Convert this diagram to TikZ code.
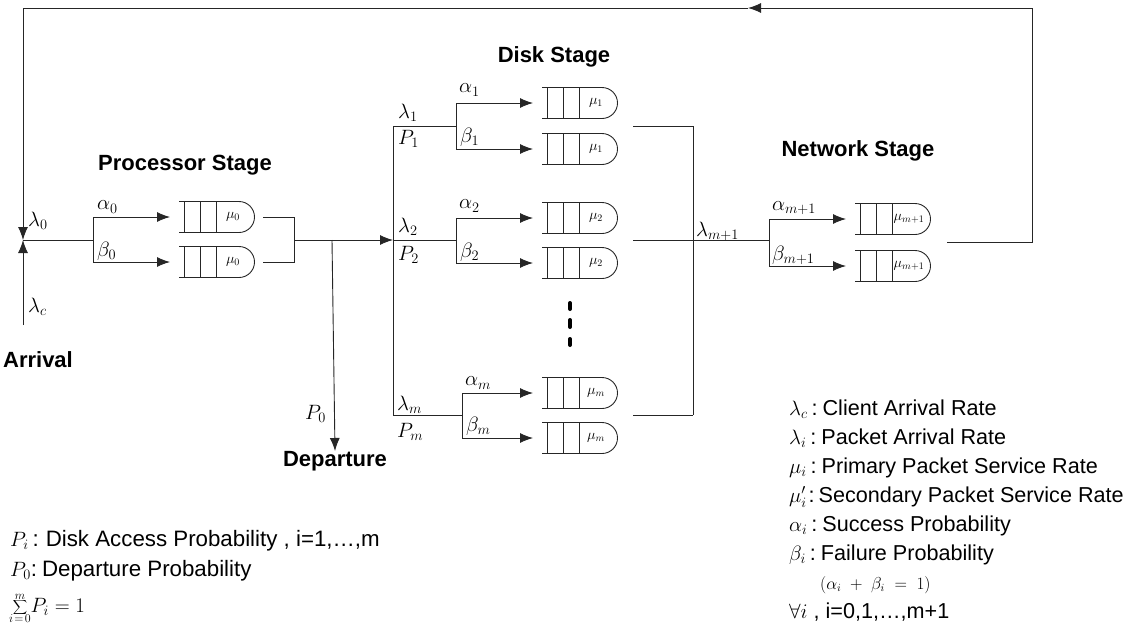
\documentclass[tikz,border=0pt]{standalone}
\usepackage{fontspec}
\setmainfont{Liberation Sans}
\usetikzlibrary{arrows.meta}
\tikzset{
  ln/.style={line width=0.9pt, draw=black!85},
  arr/.style={ln, -{Latex[length=13pt,width=10pt]}},
  lbl/.style={font=\fontsize{20}{24}\selectfont, inner sep=0pt},
  qlbl/.style={font=\fontsize{14}{16}\selectfont, inner sep=0pt},
  stage/.style={font=\fontsize{22}{26}\selectfont\bfseries, inner sep=0pt},
  legend/.style={font=\fontsize{22.3}{26}\selectfont, inner sep=0pt, anchor=base west},
  rlegend/.style={legend, font=\fontsize{21.6}{26}\selectfont},
  lim/.style={font=\fontsize{12}{13}\selectfont, inner sep=0pt},
  pics/queue/.style={code={
    \draw[ln] (0,-15.5) -- (60,-15.5) arc[start angle=90,end angle=-90,radius=15.5pt] -- (0,15.5);
    \draw[ln] (5,-15.5) -- (5,15.5) (21,-15.5) -- (21,15.5) (37,-15.5) -- (37,15.5);
    \node[qlbl] at (54,0) {#1};
    \coordinate (-in) at (-9,0);
    \coordinate (-out) at (84,0);
  }}
}
\begin{document}
\begin{tikzpicture}[x=1pt,y=-1pt]
\useasboundingbox (0,0) rectangle (1138,643);

% ---------- coordinates ----------
\coordinate (TL) at (23,8);
\coordinate (TR) at (1032,8);
\coordinate (TA) at (748,8);
\coordinate (RB) at (1032,242);
\coordinate (J0) at (23,240);
\coordinate (SRC) at (23,325);
\coordinate (B0) at (93,240);
\coordinate (B0a) at (93,217);
\coordinate (B0b) at (93,262);
\coordinate (C0) at (294,240);
\coordinate (C0a) at (294,217);
\coordinate (C0b) at (294,262);
\coordinate (D0) at (332,240);
\coordinate (DV1) at (393,126);
\coordinate (DV2) at (393,240);
\coordinate (DVm) at (393,415);
\coordinate (B1) at (456,126);
\coordinate (B1a) at (456,103);
\coordinate (B1b) at (456,149);
\coordinate (B2) at (456,240);
\coordinate (B2a) at (456,218);
\coordinate (B2b) at (456,263);
\coordinate (Bm) at (462,415);
\coordinate (Bma) at (462,393);
\coordinate (Bmb) at (462,438);
\coordinate (O1) at (633,126);
\coordinate (O2) at (633,240);
\coordinate (Om) at (633,415);
\coordinate (CV1) at (693,126);
\coordinate (CV2) at (693,240);
\coordinate (CVm) at (693,415);
\coordinate (BN) at (769,240);
\coordinate (BNa) at (769,219);
\coordinate (BNb) at (769,266);
\coordinate (ON) at (947,242);

% ---------- queues ----------
\pic (q0a) at (179,217) {queue={$\mu_0$}};
\pic (q0b) at (179,262) {queue={$\mu_0$}};
\pic (q1a) at (542,103) {queue={$\mu_1$}};
\pic (q1b) at (542,149) {queue={$\mu_1$}};
\pic (q2a) at (542,218) {queue={$\mu_2$}};
\pic (q2b) at (542,263) {queue={$\mu_2$}};
\pic (qma) at (542,393) {queue={$\mu_m$}};
\pic (qmb) at (542,438) {queue={$\mu_m$}};
\pic (qna) at (855,219) {queue={$\mu_{m+1}$}};
\pic (qnb) at (855,266) {queue={$\mu_{m+1}$}};

% ---------- text nodes ----------
\node[stage] (ps) at (185,165) {Processor Stage};
\node[stage] (ds) at (554,57) {Disk Stage};
\node[stage] (ns) at (858,151) {Network Stage};
\node[stage] (arrival) at (38,360) {Arrival};
\node[stage, anchor=north] (departure) at (335,451) {Departure};

% ---------- feedback loop ----------
\draw[ln] (TA) -- (TL);
\draw[arr] (TL) -- (J0);
\draw[arr] (ON) -- (RB) -- (TR) -- (TA);
\draw[arr] (SRC) -- (J0);

% ---------- processor stage ----------
\draw[ln] (J0) -- (B0);
\draw[ln] (B0a) -- (B0b);
\draw[arr] (B0a) -- (q0a-in);
\draw[arr] (B0b) -- (q0b-in);
\draw[ln] (263,217) -- (C0a) -- (C0b) -- (263,262);
\draw[arr] (C0) -- (DV2);
\draw[arr] (D0) -- (departure.north);

% ---------- disk stage ----------
\draw[ln] (DV1) -- (DVm);
\draw[ln] (DV1) -- (B1) (DV2) -- (B2) (DVm) -- (Bm);
\draw[ln] (B1a) -- (B1b) (B2a) -- (B2b) (Bma) -- (Bmb);
\draw[arr] (B1a) -- (q1a-in);
\draw[arr] (B1b) -- (q1b-in);
\draw[arr] (B2a) -- (q2a-in);
\draw[arr] (B2b) -- (q2b-in);
\draw[arr] (Bma) -- (qma-in);
\draw[arr] (Bmb) -- (qmb-in);
\draw[ln] (O1) -- (CV1) (O2) -- (CV2) (Om) -- (CVm);
\draw[ln] (CV1) -- (CVm);
\draw[line width=4pt, line cap=round] (570,303) -- (570,309) (570,320) -- (570,327) (570,339) -- (570,345);

% ---------- network stage ----------
\draw[ln] (CV2) -- (BN);
\draw[ln] (BNa) -- (BNb);
\draw[arr] (BNa) -- (qna-in);
\draw[arr] (BNb) -- (qnb-in);

% ---------- flow labels ----------
\node[lbl, anchor=west] (l0) at (28,221) {$\lambda_0$};
\node[lbl, anchor=west] (lc) at (28,307) {$\lambda_c$};
\node[lbl, anchor=west] (a0) at (97,207) {$\alpha_0$};
\node[lbl, anchor=west] (b0) at (97,251) {$\beta_0$};
\node[lbl, anchor=east] (p0) at (326,414) {$P_0$};
\node[lbl, anchor=west] (l1) at (398,113) {$\lambda_1$};
\node[lbl, anchor=west] (p1) at (398,139) {$P_1$};
\node[lbl, anchor=west] (l2) at (398,227) {$\lambda_2$};
\node[lbl, anchor=west] (p2) at (398,255) {$P_2$};
\node[lbl, anchor=west] (lm) at (397,405) {$\lambda_m$};
\node[lbl, anchor=west] (pm) at (397,432) {$P_m$};
\node[lbl, anchor=west] (a1) at (459,90) {$\alpha_1$};
\node[lbl, anchor=west] (b1) at (460,137) {$\beta_1$};
\node[lbl, anchor=west] (a2) at (459,206) {$\alpha_2$};
\node[lbl, anchor=west] (b2) at (460,252) {$\beta_2$};
\node[lbl, anchor=west] (am) at (465,383) {$\alpha_m$};
\node[lbl, anchor=west] (bm) at (466,426) {$\beta_m$};
\node[lbl, anchor=west] (lm1) at (696,231) {$\lambda_{m+1}$};
\node[lbl, anchor=west] (am1) at (772,208) {$\alpha_{m+1}$};
\node[lbl, anchor=west] (bm1) at (772,255) {$\beta_{m+1}$};

% ---------- legends ----------
\node[legend] (g1) at (10,546) {$P_i$\hspace{4pt}:\hspace{7pt}Disk Access Probability , i=1,\ldots,m};
\node[legend] (g2) at (10,576) {$P_0$:\hspace{5pt}Departure Probability};
\node[lbl, font=\fontsize{23}{26}\selectfont] (sig) at (20,607) {$\displaystyle\sum$};
\node[lim, anchor=south] (sup) at ([yshift=-1pt]sig.north) {$m$};
\node[lim, anchor=north] (sub) at ([yshift=1pt]sig.south) {$i\!=\!0$};
\node[lbl, anchor=west, font=\fontsize{20}{24}\selectfont] (sumr) at ([xshift=3pt]sig.east) {$P_i = 1$};

\node[rlegend] (r1) at (789,415) {$\lambda_c$\hspace{4pt}:\hspace{5pt}Client Arrival Rate};
\node[rlegend] (r2) at (789,444) {$\lambda_i$\hspace{4pt}:\hspace{5pt}Packet Arrival Rate};
\node[rlegend] (r3) at (789,473) {$\mu_i$\hspace{4pt}:\hspace{5pt}Primary Packet Service Rate};
\node[rlegend] (r4) at (789,502) {$\mu'_i$\hspace{2pt}:\hspace{4pt}Secondary Packet Service Rate};
\node[rlegend] (r5) at (789,531) {$\alpha_i$\hspace{4pt}:\hspace{5pt}Success Probability};
\node[rlegend] (r6) at (789,560) {$\beta_i$\hspace{4pt}:\hspace{5pt}Failure Probability};
\node[legend, font=\fontsize{16}{18}\selectfont] (r7) at (820,589) {$(\alpha_i\;+\;\beta_i\;=\;1)$};
\node[rlegend] (r8) at (789,618) {$\forall i$ , i=0,1,\ldots,m+1};
\end{tikzpicture}
\end{document}
